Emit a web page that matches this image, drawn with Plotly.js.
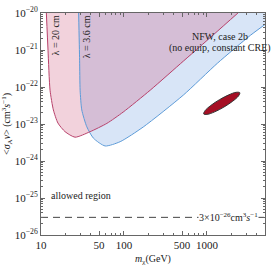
<!DOCTYPE html>
<html><head><meta charset="utf-8">
<script src="https://cdn.plot.ly/plotly-3.0.1.min.js"></script>
<style>html,body{margin:0;padding:0;background:#fff}#chart{width:274px;height:268px}</style>
</head><body><div id="chart"></div>
<script>
// lambda = 20 cm boundary (mass GeV, sigma v cm^3/s)
const pinkMass  = [11.6, 12.15, 12.85, 14.1, 16.0, 19.5, 25.7, 39.1, 62.2, 97.7, 207, 519, 832, 2361];
const pinkSigma = [1e-20, 9.9e-22, 8.2e-23, 2.4e-23, 1.06e-23, 6.2e-24, 4.4e-24, 6.2e-24, 1.04e-23, 2.1e-23, 8.2e-23, 5.0e-22, 1.26e-21, 1e-20];
// lambda = 3.6 cm boundary
const blueMass  = [28.4, 29.2, 29.6, 31.0, 35.6, 42.9, 59.3, 90.0, 170.6, 519, 1337, 3342, 5500];
const blueSigma = [1e-20, 5.3e-22, 8.2e-23, 2.4e-23, 8.45e-24, 4.12e-24, 2.55e-24, 3.33e-24, 8.3e-24, 6.05e-23, 4.4e-22, 2.5e-21, 5.7e-21];
// best-fit region outline
const ellMass  = [2483, 2393, 2037, 1600, 1236, 1007, 913, 947, 1112, 1416, 1833, 2249, 2483];
const ellSigma = [7.02e-23, 5.71e-23, 4.12e-23, 2.87e-23, 2.13e-23, 1.82e-23, 1.87e-23, 2.29e-23, 3.17e-23, 4.55e-23, 6.14e-23, 7.19e-23, 7.02e-23];
// thermal cross section
const thermalSigma = 3e-26;
const xRange = [10, 5000];
const yTickVals = [1e-26, 1e-25, 1e-24, 1e-23, 1e-22, 1e-21, 1e-20];
const yTickText = ['10<sup>−26</sup>','10<sup>−25</sup>','10<sup>−24</sup>','10<sup>−23</sup>','10<sup>−22</sup>','10<sup>−21</sup>','10<sup>−20</sup>'];
const xTickVals = [10, 50, 100, 500, 1000, 5000];
const xTickText = ['10', '50', '100', '500', '1000', '5000'];

const xMinor = [];
[10, 100, 1000].forEach(d => { for (let k = 1; k <= 9; k++) { const v = d * k; if (v <= 5000 && xTickVals.indexOf(v) < 0) xMinor.push(v); } });
const yMinor = [];
yTickVals.slice(0, 6).forEach(d => { for (let k = 2; k <= 9; k++) yMinor.push(d * k); });

const FONT = 'Liberation Serif, Times New Roman, serif';
const traces = [
  { x: blueMass.concat([5500, 28.4]), y: blueSigma.concat([1e-20, 1e-20]), mode: 'lines', fill: 'toself',
    fillcolor: 'rgba(100,150,225,0.25)', line: { width: 0 }, hoverinfo: 'skip' },
  { x: pinkMass, y: pinkSigma, mode: 'lines', fill: 'toself',
    fillcolor: 'rgba(205,80,120,0.26)', line: { width: 0 }, hoverinfo: 'skip' },
  { x: blueMass, y: blueSigma, mode: 'lines', line: { color: '#5b9ad8', width: 1, shape: 'spline', smoothing: 0.6 } },
  { x: pinkMass, y: pinkSigma, mode: 'lines', line: { color: '#b8406a', width: 1, shape: 'spline', smoothing: 0.6 } },
  { x: ellMass, y: ellSigma, mode: 'lines', fill: 'toself', fillcolor: '#a50f24',
    line: { color: '#333', width: 1, shape: 'spline', smoothing: 1 } },
  { x: xRange, y: [thermalSigma, thermalSigma], mode: 'lines', line: { color: '#444', width: 1, dash: '7px,5px' } }
];
const axisCommon = { type: 'log', showgrid: false, zeroline: false, showline: true, linecolor: '#666', linewidth: 1,
  mirror: 'allticks', ticks: 'inside', ticklen: 4, tickcolor: '#666', tickfont: { family: FONT, size: 11, color: '#222' } };
const layout = {
  width: 274, height: 268, margin: { l: 41, r: 9, t: 13, b: 33 },
  paper_bgcolor: '#fff', plot_bgcolor: '#fff', showlegend: false, font: { family: FONT, color: '#222' },
  xaxis: Object.assign({}, axisCommon, { range: [Math.log10(10), Math.log10(5000)], tickmode: 'array', tickvals: xTickVals, ticktext: xTickText,
    minor: { tickvals: xMinor, ticks: 'inside', ticklen: 2, tickcolor: '#666' },
    title: { text: '<i>m</i><sub>χ</sub>(GeV)', font: { family: FONT, size: 10 }, standoff: 4 } }),
  yaxis: Object.assign({}, axisCommon, { range: [-26, -20], tickmode: 'array', tickvals: yTickVals, ticktext: yTickText,
    minor: { tickvals: yMinor, ticks: 'inside', ticklen: 2, tickcolor: '#666' },
    title: { text: '&lt;<i>σ</i><sub>A</sub><i>v</i>&gt; (cm<sup>3</sup><i>s</i><sup>−1</sup>)', font: { family: FONT, size: 10 }, standoff: 2 } }),
  annotations: [
    { x: Math.log10(1811), y: Math.log10(thermalSigma), text: '3×10<sup>−26</sup>cm<sup>3</sup><i>s</i><sup>−1</sup>', showarrow: false,
      bgcolor: '#fff', font: { family: FONT, size: 10, color: '#222' }, borderpad: 0 },
    { x: Math.log10(30.5), y: Math.log10(1.2e-25), text: 'allowed region', showarrow: false, font: { family: FONT, size: 10, color: '#222' } },
    { x: Math.log10(1450), y: Math.log10(2.3e-21), text: 'NFW, case 2b', showarrow: false, font: { family: FONT, size: 10, color: '#222' } },
    { x: Math.log10(1450), y: Math.log10(1.1e-21), text: '(no equip, constant CRE)', showarrow: false, font: { family: FONT, size: 10, color: '#222' } },
    { x: Math.log10(14.8), y: Math.log10(2.5e-21), text: 'λ = 20 cm', textangle: -90, showarrow: false, font: { family: FONT, size: 10, color: '#222' } },
    { x: Math.log10(35.5), y: Math.log10(2.3e-21), text: 'λ = 3.6 cm', textangle: -90, showarrow: false, font: { family: FONT, size: 10, color: '#222' } }
  ]
};
Plotly.newPlot('chart', traces, layout, { staticPlot: true, displayModeBar: false });
</script></body></html>
